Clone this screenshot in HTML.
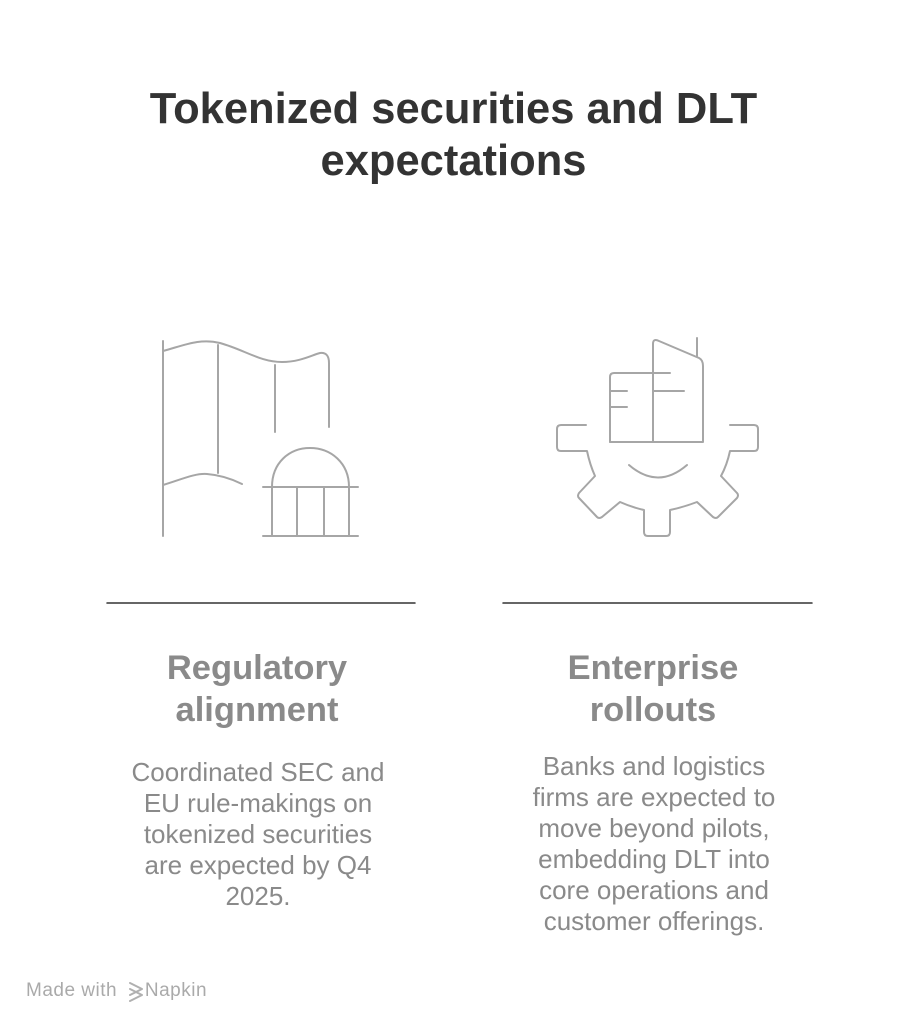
<!DOCTYPE html>
<html><head><meta charset="utf-8"><style>
html,body{margin:0;padding:0;background:#fff;}
body{width:919px;height:1024px;position:relative;overflow:hidden;font-family:"Liberation Sans",Arial,sans-serif;}
.t{position:absolute;left:-6px;width:919px;text-align:center;font-weight:bold;font-size:43.5px;color:#333;line-height:52px;top:83px;}
.h{position:absolute;text-align:center;font-weight:bold;font-size:34.5px;color:#8a8a8a;line-height:42px;width:360px;}
.p{position:absolute;text-align:center;font-size:26px;color:#8a8a8a;line-height:31px;width:360px;}
.f{position:absolute;left:26px;top:980px;font-size:19px;color:#aaa;letter-spacing:0.5px;}
</style></head><body>
<div class="t">Tokenized securities and DLT<br>expectations</div>
<svg width="919" height="1024" style="position:absolute;left:0;top:0" fill="none" stroke="#a6a6a6" stroke-width="2" stroke-linecap="round" stroke-linejoin="round">
<path d="M163 341V536"/>
<path d="M163 351C185 345 200 338 220 343C245 350 260 362 282 362C300 362 312 355 320 353Q329 352 329 363V427"/>
<path d="M218 345V473"/>
<path d="M275 365V432"/>
<path d="M163 485C180 480 195 473 207 474C220 475 232 479 242 484"/>
<path d="M272 487C272 463 289 448 310 448C331 448 349 463 349 487"/>
<path d="M263 487H358M263 536H358M272 487V536M297 487V536M324 487V536M349 487V536"/>
<path d="M610 442V377Q610 373 614 373H670"/>
<path d="M653 442V344Q653 338 659 341L699 358Q703 360 703 366V442H610"/>
<path d="M697 338V356"/>
<path d="M610 391H627M653 391H684M610 407H627"/>
<path d="M629 465Q658 490 687 465"/>
<path d="M586 425H561Q557 425 557 429V447Q557 451 561 451H587Q590 465 595 476L579 493Q577 496 579 498L597 517Q599 519 602 517L620 502Q631 507 644 510V532Q644 536 648 536H666Q670 536 670 532V510Q684 507 697 502L713 517Q716 519 718 517L737 498Q739 495 737 493L721 476Q727 465 730 451H754Q758 451 758 447V429Q758 425 754 425H730"/>
<path d="M107 603H415M503 603H812" stroke="#333" stroke-width="1.5"/>
<path d="M130 983L142 989L130 995M130 989L142 995L130 1001" stroke="#b0b0b0" stroke-width="2"/>
</svg>
<div class="h" style="left:77px;top:647px">Regulatory<br>alignment</div>
<div class="h" style="left:473px;top:647px">Enterprise<br>rollouts</div>
<div class="p" style="left:78px;top:757px">Coordinated SEC and<br>EU rule-makings on<br>tokenized securities<br>are expected by Q4<br>2025.</div>
<div class="p" style="left:474px;top:751px">Banks and logistics<br>firms are expected to<br>move beyond pilots,<br>embedding DLT into<br>core operations and<br>customer offerings.</div>
<div class="f">Made with <span style="display:inline-block;width:22px"></span>Napkin</div>
</body></html>
